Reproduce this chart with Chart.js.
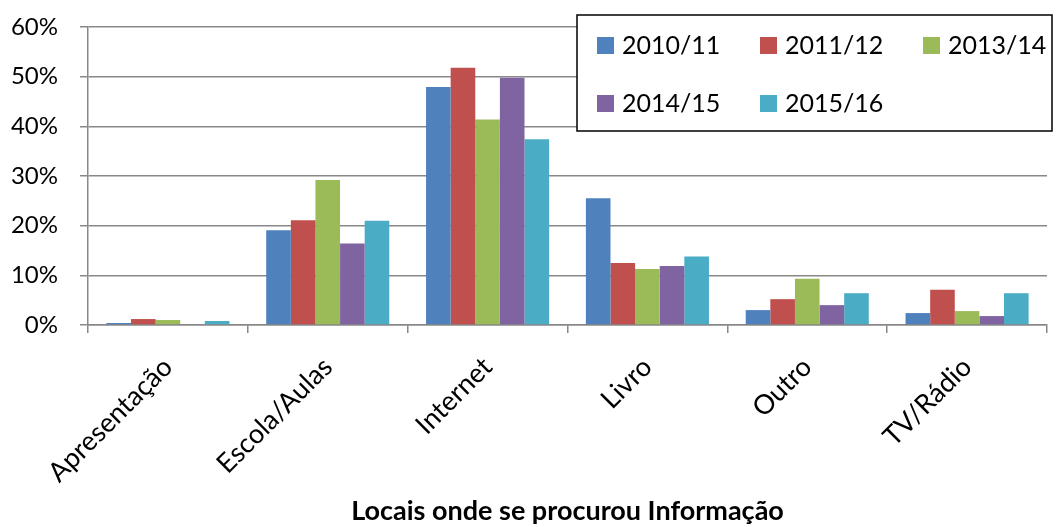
<!DOCTYPE html>
<html lang="pt">
<head>
    <meta charset="UTF-8">
    <title>Locais onde se procurou Informação</title>
    <style>
        * { margin: 0; padding: 0; box-sizing: border-box; }
        body { background: #fff; font-family: Lato, sans-serif; }
        #wrap { width: 1056px; height: 527px; position: relative; }
    </style>
</head>
<body>
    <div id="wrap"><canvas id="chart"></canvas></div>

    <script src="https://cdn.jsdelivr.net/npm/chart.js"></script>
    <script>
        // Data (%)
        const categories = ["Apresentação", "Escola/Aulas", "Internet", "Livro", "Outro", "TV/Rádio"];
        const years = ["2010/11", "2011/12", "2013/14", "2014/15", "2015/16"];
        const s2010 = [0.4, 19.1, 47.9, 25.5, 3.0, 2.4];
        const s2011 = [1.2, 21.1, 51.8, 12.5, 5.2, 7.1];
        const s2013 = [1.0, 29.2, 41.4, 11.3, 9.3, 2.8];
        const s2014 = [0.0, 16.4, 49.8, 11.9, 4.0, 1.8];
        const s2015 = [0.8, 21.0, 37.4, 13.8, 6.4, 6.4];
        const yTicks = [0, 10, 20, 30, 40, 50, 60];

        const colors = ["#4F81BD", "#C0504D", "#9BBB59", "#8064A2", "#4BACC6"];
        const series = [s2010, s2011, s2013, s2014, s2015];

        // Legend box drawn over the plot area, like the spreadsheet original
        const boxLegend = {
            id: "boxLegend",
            afterDraw(chart) {
                const ctx = chart.ctx;
                const area = chart.chartArea;
                const x0 = area.right - 470, y0 = area.top - 12;
                const w = 475, h = 116;
                ctx.save();
                ctx.fillStyle = "#fff";
                ctx.fillRect(x0, y0, w, h);
                ctx.strokeStyle = "#000";
                ctx.lineWidth = 1.5;
                ctx.strokeRect(x0, y0, w, h);
                ctx.font = "25px Lato";
                ctx.textBaseline = "middle";
                chart.data.datasets.forEach((ds, i) => {
                    const col = i % 3, row = Math.floor(i / 3);
                    const sx = x0 + 20 + col * 163;
                    const sy = y0 + 30 + row * 58;
                    ctx.fillStyle = ds.backgroundColor;
                    ctx.fillRect(sx, sy - 8, 17, 17);
                    ctx.fillStyle = "#000";
                    ctx.fillText(ds.label, sx + 25, sy + 1);
                });
                ctx.restore();
            }
        };

        new Chart(document.getElementById("chart"), {
            type: "bar",
            data: {
                labels: categories,
                datasets: years.map((y, i) => ({
                    label: y,
                    data: series[i],
                    backgroundColor: colors[i],
                    categoryPercentage: 0.77,
                    barPercentage: 1.0
                }))
            },
            options: {
                responsive: true,
                maintainAspectRatio: false,
                animation: false,
                layout: { padding: { left: 4, top: 4, right: 9, bottom: 0 } },
                plugins: {
                    legend: { display: false },
                    tooltip: { enabled: false }
                },
                scales: {
                    x: {
                        afterFit(scale) { scale.height = 202; },
                        grid: {
                            offset: true,
                            drawOnChartArea: false,
                            drawTicks: true,
                            tickLength: 8,
                            color: "#888",
                            lineWidth: 1.5
                        },
                        border: { color: "#888", width: 1.5 },
                        ticks: {
                            minRotation: 45,
                            maxRotation: 45,
                            color: "#000",
                            padding: 18,
                            font: { family: "Lato", size: 27 }
                        },
                        title: {
                            display: true,
                            text: "Locais onde se procurou Informação",
                            color: "#000",
                            font: { family: "Lato", size: 27, weight: "bold" },
                            padding: { top: 12, bottom: 0 }
                        }
                    },
                    y: {
                        min: 0,
                        max: 60,
                        afterBuildTicks(axis) {
                            axis.ticks = yTicks.map(v => ({ value: v }));
                        },
                        afterFit(scale) {
                            scale.width = 84;
                            scale.paddingTop = 27;
                            scale.paddingBottom = 0;
                        },
                        grid: {
                            color: "#888",
                            lineWidth: 1.5,
                            drawTicks: true,
                            tickLength: 8
                        },
                        border: { color: "#888", width: 1.5 },
                        ticks: {
                            color: "#000",
                            padding: 22,
                            font: { family: "Lato", size: 24 },
                            callback: v => v + "%"
                        }
                    }
                }
            },
            plugins: [boxLegend]
        });
    </script>
</body>
</html>
